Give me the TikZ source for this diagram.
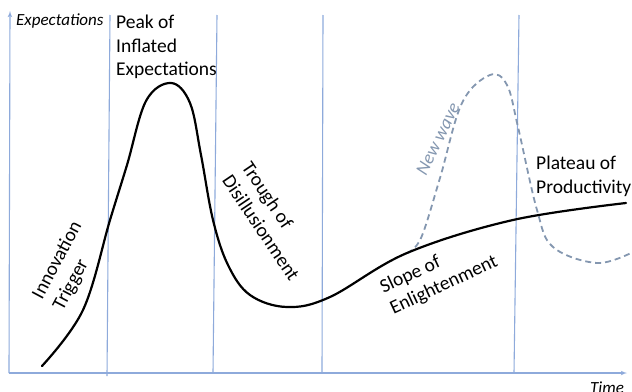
\documentclass[tikz,border=0pt]{standalone}
\usepackage{fontspec}
\setmainfont{Carlito}
\usepackage{tikz}
\usetikzlibrary{arrows}
\usepackage{xcolor}
\definecolor{phaseblue}{HTML}{8EAADB}
\definecolor{wavegrey}{HTML}{8497B0}

\begin{document}
\begin{tikzpicture}[x=1pt,y=-1pt]
	\tikzset{axis/.style = {draw=phaseblue,line width=1.1pt,->,> = latex'}}
	\tikzset{divider/.style = {draw=phaseblue,line width=1.1pt}}
	\tikzset{hype/.style = {draw=black,line width=2.2pt,line cap=round}}
	\tikzset{wave/.style = {draw=wavegrey,line width=1.8pt,dash pattern=on 6pt off 4pt}}
	\tikzset{phase/.style = {inner sep=0pt,align=left,font=\fontsize{19.5}{23.5}\selectfont}}
	\tikzset{axislabel/.style = {inner sep=0pt,font=\fontsize{17}{20}\selectfont\itshape}}
	\useasboundingbox (0,0) rectangle (632,391);
	\coordinate (o) at (9,373);
	\coordinate (ytop) at (10,11);
	\coordinate (xend) at (627,373);
	\coordinate (t1) at (110,15);
	\coordinate (b1) at (107,376);
	\coordinate (t2) at (217,15);
	\coordinate (b2) at (213,373);
	\coordinate (t3) at (323,15);
	\coordinate (b3) at (322,373);
	\coordinate (t4) at (519,15);
	\coordinate (b4) at (514,373);
	%axes and phases
	\draw[axis] (o) -- (ytop);
	\draw[axis] (o) -- (xend);
	\draw[divider] (t1) -- (b1);
	\draw[divider] (t2) -- (b2);
	\draw[divider] (t3) -- (b3);
	\draw[divider] (t4) -- (b4);
	%curves
	\draw[wave] plot[smooth,tension=0.6] coordinates {(407,253) (421,238) (440,178) (462,103) (490,75) (507,85) (518,127) (537,210) (553,247) (597,263) (633,252)};
	\draw[hype] plot[smooth,tension=0.6] coordinates {(42,366) (83,310) (110,220) (127,165) (146,101) (171,83) (190,103) (201,155) (213,220) (228,265) (250,295) (287,307) (330,297) (407,253) (513,220) (626,203)};
	%labels
	\node[axislabel,anchor=base west] (ylab) at (16,25) {Expectations};
	\node[axislabel,anchor=base west] (xlab) at (590,393) {Time};
	\node[phase,anchor=north west] (peak) at (116,15) {Peak of\\Inflated\\Expectations};
	\node[phase,rotate=62] (trigger) at (68,266) {Innovation\\Trigger};
	\node[phase,rotate=-56] (trough) at (271,221) {Trough of\\Disillusionment};
	\node[phase,rotate=25] (slope) at (439,275) {Slope of\\Enlightenment};
	\node[phase,anchor=north west] (plateau) at (536,156) {Plateau of\\Productivity};
	\node[phase,rotate=64,text=wavegrey,font=\fontsize{18.5}{23}\selectfont\itshape] (newwave) at (438,139) {New wave};
\end{tikzpicture}
\end{document}
